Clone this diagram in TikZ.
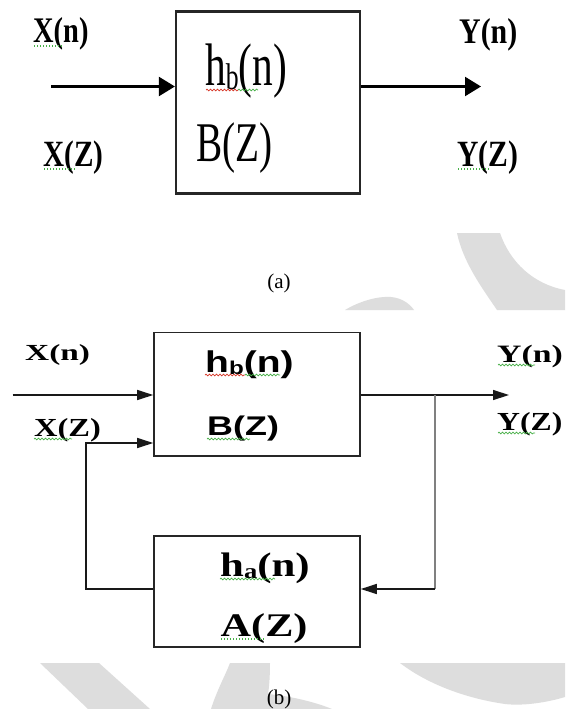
\documentclass[tikz,border=0pt]{standalone}
\usepackage{fontspec}
\setmainfont{Liberation Serif}
\newfontfamily\arialf{Liberation Sans}
\usepackage{graphicx}
\usetikzlibrary{arrows.meta,decorations.pathmorphing}
\definecolor{wm}{RGB}{221,221,221}
\definecolor{spg}{RGB}{70,175,70}
\definecolor{spr}{RGB}{215,55,40}
\newcommand{\tl}[3]{\scalebox{#1}[1]{\fontsize{#2}{#2}\selectfont #3}}
\newcommand{\sbs}[1]{\raisebox{-0.08em}{\scalebox{0.62}{#1}}}
\begin{document}
\begin{tikzpicture}[x=1pt,y=-1pt,
  boxa/.style={draw=black!85,line width=2.2pt,inner sep=0pt,minimum width=184pt,minimum height=182pt},
  boxb/.style={draw=black!85,line width=1.6pt,inner sep=0pt,minimum width=206pt},
  lbl/.style={anchor=base west,inner sep=0pt},
  captxt/.style={anchor=base,inner sep=0pt,font=\fontsize{21}{21}\selectfont},
  arra/.style={draw=black,line width=2.2pt,-{Triangle[length=16pt,width=19pt]}},
  arrb/.style={draw=black!90,line width=1.4pt,line join=miter,-{Triangle[length=16pt,width=10pt]}},
  grayline/.style={draw=black!50,line width=2.8pt},
  sq/.style={draw=#1,line width=0.7pt,decorate,decoration={snake,amplitude=0.9pt,segment length=3.5pt}},
  dt/.style={draw=#1,line width=1.1pt,dash pattern=on 1.2pt off 1.8pt}]
\useasboundingbox (0,0) rectangle (565,709);
\fill[white] (0,0) rectangle (565,709);
% watermark bands
\begin{scope}
\clip (0,233) rectangle (565,310);
\fill[wm] (457,233) -- (500,233) .. controls (510,262) and (533,284) .. (565,290) -- (565,310) -- (497,310) .. controls (482,288) and (463,262) .. (457,233) -- cycle;
\fill[wm] (345,310) .. controls (360,301) and (378,296) .. (391,297) .. controls (402,298) and (410,304) .. (414,310) -- cycle;
\end{scope}
\begin{scope}
\clip (0,663) rectangle (565,709);
\fill[wm] (40,663) -- (99,663) -- (150,709) -- (88,709) -- cycle;
\fill[wm] (230,663) -- (270,663) .. controls (270,678) and (269,688) .. (268,694) .. controls (290,696) and (315,702) .. (332,709) -- (211,709) .. controls (217,690) and (225,676) .. (230,663) -- cycle;
\fill[wm] (400,663) -- (565,663) -- (565,697) .. controls (545,703) and (522,706) .. (505,704) .. controls (470,699) and (430,686) .. (400,663) -- cycle;
\end{scope}
% ---------------- (a)
\node[boxa] (ba) at (268,102.5) {};
\coordinate (ina) at (51,86.5);
\coordinate (outa) at (481,86.5);
\draw[arra] (ina) -- (ina -| ba.west);
\draw[arra] (outa -| ba.east) -- (outa);
\node[lbl] (xna) at (33,43) {\tl{0.79}{36}{\bfseries X(n)}};
\node[lbl] (xza) at (43,166) {\tl{0.79}{37}{\bfseries X(Z)}};
\node[lbl] (yna) at (459,44) {\tl{0.83}{36}{\bfseries Y(n)}};
\node[lbl] (yza) at (457,166) {\tl{0.80}{37}{\bfseries Y(Z)}};
\node[lbl] (hba) at (205,85) {\tl{0.69}{60}{h\sbs{b}(n)}};
\node[lbl] (bza) at (196,161) {\tl{0.70}{56}{B(Z)}};
\node[captxt] (capa) at (279,288) {(a)};
% spell marks (a)
\draw[dt=spg] (34,46) -- (63,46);
\draw[dt=spg] (44,169) -- (75,169);
\draw[dt=spg] (458,169) -- (490,169);
\draw[sq=spr] (206,90) -- (238,90);
\draw[sq=spg] (238,90) -- (258,90);
% ---------------- (b)
\node[boxb,minimum height=123.4pt] (bb) at (257,394.3) {};
\node[boxb,minimum height=111pt] (bA) at (257,591.5) {};
\coordinate (inb) at (12.6,395);
\coordinate (outb) at (509,395);
\coordinate (br) at (435,395);
\coordinate (brb) at (435,589);
\coordinate (fbb) at (86,589);
\coordinate (fbt) at (86,443);
\draw[arrb] (inb) -- (inb -| bb.west);
\draw[arrb] (outb -| bb.east) -- (outb);
\draw[grayline] (br) -- (brb);
\draw[arrb] (brb) -- (brb -| bA.east);
\draw[arrb] (fbb -| bA.west) -- (fbb) -- (fbt) -- (fbt -| bb.west);
\node[lbl] (xnb) at (25,360) {\tl{1.45}{23}{\bfseries X(n)}};
\node[lbl] (xzb) at (34,436) {\tl{1.25}{26}{\bfseries X(Z)}};
\node[lbl] (ynb) at (497,362) {\tl{1.35}{25}{\bfseries Y(n)}};
\node[lbl] (yzb) at (497,430) {\tl{1.22}{26}{\bfseries Y(Z)}};
\node[lbl] (hbb) at (205,372) {\tl{1.3}{30}{\arialf\bfseries h\sbs{b}(n)}};
\node[lbl] (bzb) at (207,435) {\tl{1.33}{27}{\arialf\bfseries B(Z)}};
\node[lbl] (hab) at (220,576) {\tl{1.26}{34}{\bfseries h\sbs{a}(n)}};
\node[lbl] (azb) at (220.5,636) {\tl{1.28}{33}{\bfseries A(Z)}};
\node[captxt] (capb) at (279,704) {(b)};
% spell marks (b)
\draw[sq=spg] (34,439) -- (72,439);
\draw[sq=spr] (205,375) -- (245,375);
\draw[sq=spg] (245,375) -- (280,375);
\draw[sq=spg] (207,439) -- (250,439);
\draw[sq=spg] (498,365) -- (535,365);
\draw[sq=spg] (498,433) -- (535,433);
\draw[sq=spg] (220,579) -- (275,579);
\draw[dt=spg] (221,639) -- (265,639);
\end{tikzpicture}
\end{document}
